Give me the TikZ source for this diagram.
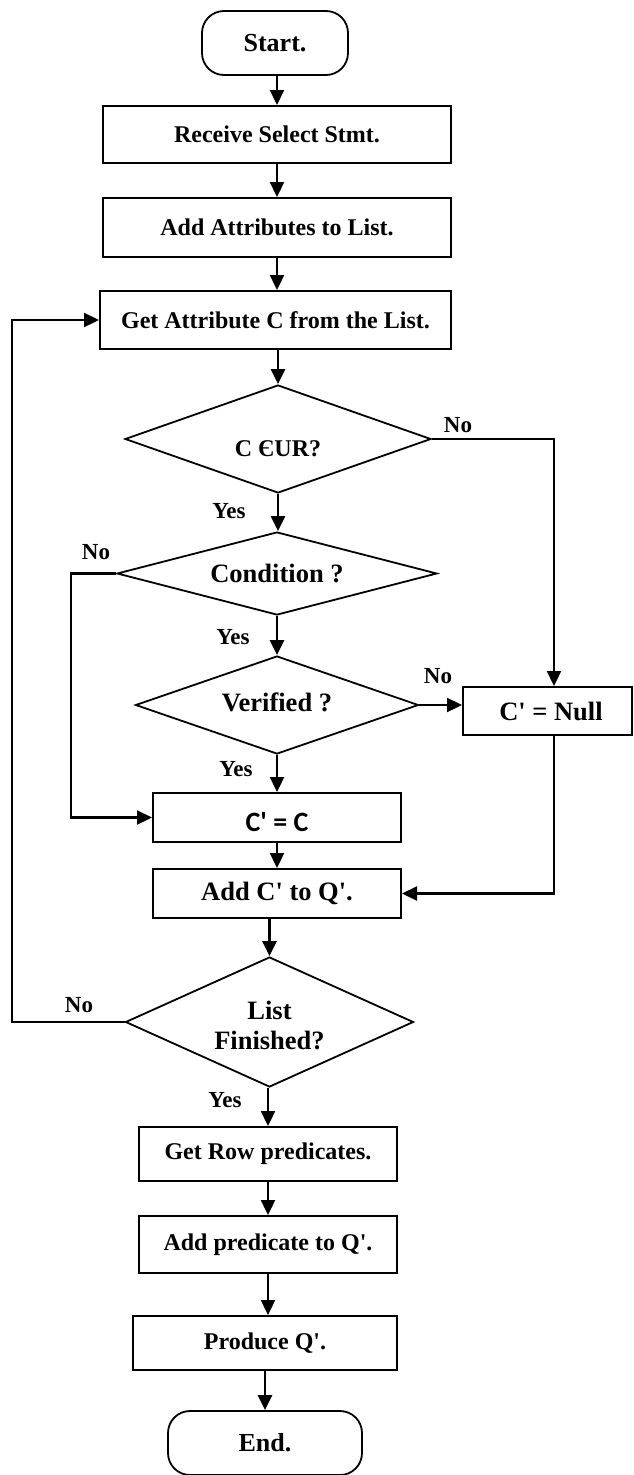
\documentclass[tikz,border=0pt]{standalone}
\usepackage{fontspec}
\setmainfont{Liberation Serif}[Ligatures=TeXOff]
\newfontfamily\calib{Carlito}
\usetikzlibrary{shapes.geometric,arrows.meta}

\begin{document}
\begin{tikzpicture}[x=1pt,y=-1pt,
  font=\bfseries\fontsize{24}{27}\selectfont,
  terminal/.style={draw,line width=1.8pt,rectangle,rounded corners=22pt,inner sep=0pt,
    minimum width=#1,minimum height=64pt},
  stepbox/.style={draw,line width=2pt,rectangle,inner sep=0pt},
  decision/.style={draw,line width=1.8pt,diamond,inner sep=0pt,
    font=\bfseries\fontsize{26.5}{30}\selectfont},
  arr/.style={line width=2.3pt,-{Triangle[width=14pt,length=15pt]}},
  tag/.style={inner sep=0pt,font=\bfseries\fontsize{23}{26}\selectfont}]
\useasboundingbox (0,0) rectangle (633,1475);

% main column
\node (start) [terminal=146pt] at (275,43) {\fontsize{26}{29}\selectfont Start.};
\node (receive) [stepbox,minimum width=348pt,minimum height=57pt] at (277,134.5) {Receive Select Stmt.};
\node (addattr) [stepbox,minimum width=348pt,minimum height=59pt] at (277,227.5) {Add Attributes to List.};
\node (getattr) [stepbox,minimum width=351pt,minimum height=58pt] at (275.5,320) {Get Attribute C from the List.};

\node (inur) [decision,font=\bfseries\fontsize{24}{27}\selectfont,aspect=2.83,
  minimum width=306pt,minimum height=108pt] at (278,439)
  {\raisebox{-10pt}[\height][\depth]{C ЄUR?}};
\node (cond) [decision,aspect=3.86,minimum width=320pt,minimum height=83pt] at (277,573.5) {Condition ?};
\node (verif) [decision,aspect=2.89,minimum width=283pt,minimum height=98pt] at (277,705) {\raisebox{3pt}[\height][\depth]{Verified ?}};

\node (null) [stepbox,font=\bfseries\fontsize{26.5}{30}\selectfont,
  minimum width=169pt,minimum height=48pt] at (547.5,711) {\hspace*{7pt}C' = Null};
\node (keep) [stepbox,minimum width=248pt,minimum height=49pt] at (277,817.5)
  {\calib\bfseries\fontsize{28}{30}\selectfont\raisebox{-5pt}[\height][\depth]{C' = C}};
\node (addc) [stepbox,font=\bfseries\fontsize{26.5}{30}\selectfont,
  minimum width=248pt,minimum height=49pt] at (277,893.5) {Add C' to Q'.};

\node (fin) [decision,aspect=2.22,minimum width=288pt,minimum height=130pt,align=center] at (269.5,1022)
  {\raisebox{-3pt}[\height][\depth]{List}\\\raisebox{-3pt}[\height][\depth]{Finished?}};

\node (getrow) [stepbox,minimum width=258pt,minimum height=54pt] at (268,1154) {Get Row predicates.};
\node (addpred) [stepbox,minimum width=258pt,minimum height=57pt] at (268,1244.5) {Add predicate to Q'.};
\node (produce) [stepbox,minimum width=264pt,minimum height=54pt] at (265,1343) {Produce Q'.};
\node (end) [terminal=194pt] at (265,1443) {\fontsize{26}{29}\selectfont End.};

% side routes
\coordinate (nullin) at (554,0);
\coordinate (condleft) at (71,0);
\coordinate (loopleft) at (12,0);

% straight flow
\draw[arr] (receive.north |- start.south) -- (receive.north);
\draw[arr] (receive.south) -- (addattr.north);
\draw[arr] (addattr.south) -- (addattr.south |- getattr.north);
\draw[arr] (inur.north |- getattr.south) -- (inur.north);
\draw[arr] (inur.south) -- (inur.south |- cond.north);
\draw[arr] (cond.south) -- (verif.north);
\draw[arr] (verif.south) -- (keep.north);
\draw[arr] (keep.south) -- (addc.north);
\draw[arr] (fin.north |- addc.south) -- (fin.north);
\draw[arr] (getrow.north |- fin.south) -- (getrow.north);
\draw[arr] (getrow.south) -- (addpred.north);
\draw[arr] (addpred.south) -- (addpred.south |- produce.north);
\draw[arr] (end.north |- produce.south) -- (end.north);

% branches
\draw[arr] (inur.east) -- (inur.east -| nullin) -- (nullin |- null.north);
\draw[arr] (verif.east) -- (verif.east -| null.west);
\draw[arr] (nullin |- null.south) |- (addc.east);
\draw[arr] (cond.west) -- (cond.west -| condleft) |- (keep.west);
\draw[arr] (fin.west) -- (fin.west -| loopleft) |- (getattr.west);

% branch labels
\node[tag] (n1) at (458,425) {No};
\node[tag] (y1) at (229,511) {Yes};
\node[tag] (n2) at (96,552) {No};
\node[tag] (y2) at (233,637) {Yes};
\node[tag] (n3) at (438,676) {No};
\node[tag] (y3) at (236,769) {Yes};
\node[tag] (n4) at (79,1005) {No};
\node[tag] (y4) at (225,1100) {Yes};
\end{tikzpicture}
\end{document}
